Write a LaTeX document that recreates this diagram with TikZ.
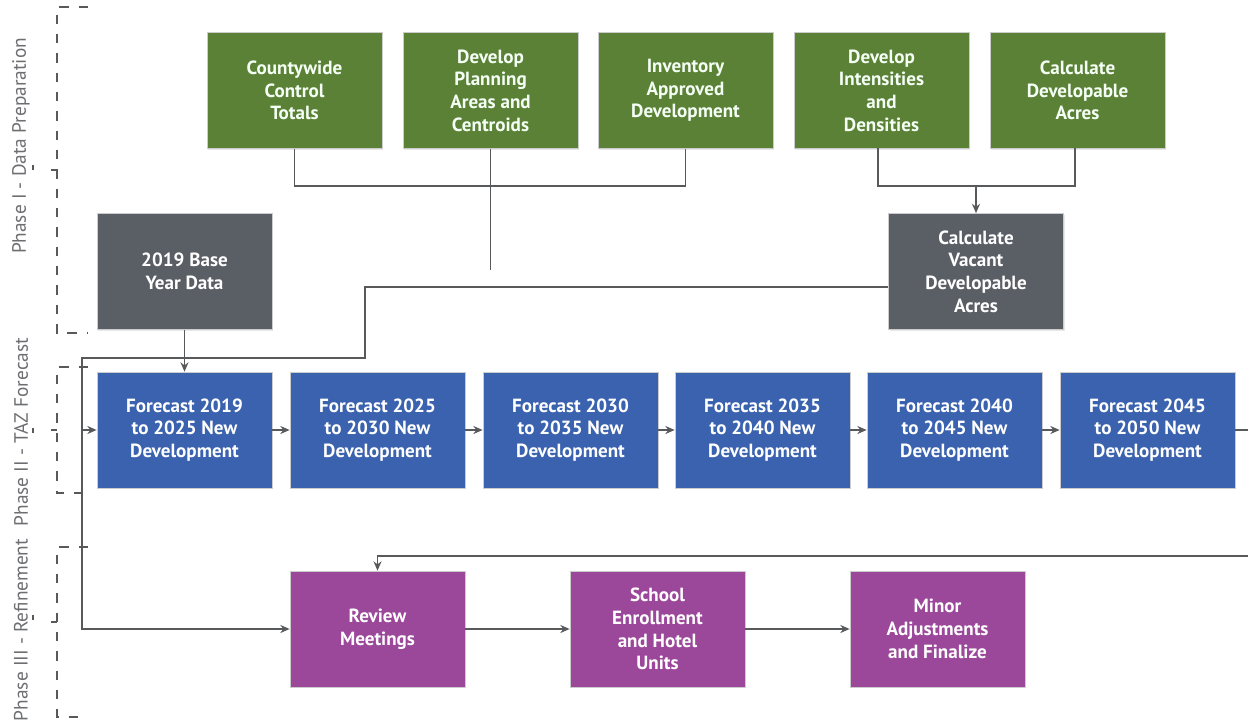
\documentclass[tikz,border=0pt]{standalone}
\usepackage{fontspec}
\setmainfont{PT Sans}
\usetikzlibrary{arrows.meta,shadows}

\definecolor{prepgreen}{HTML}{5A8135}
\definecolor{basegrey}{HTML}{5A5E65}
\definecolor{tazblue}{HTML}{3A62AE}
\definecolor{refpurple}{HTML}{9B489B}
\definecolor{linegrey}{HTML}{58595B}
\definecolor{phasegrey}{HTML}{6D6E71}

\begin{document}
\begin{tikzpicture}[x=0.75pt,y=-0.75pt,
  box/.style={draw=white!80!black, line width=0.5pt, minimum width=131.25pt,
    minimum height=87pt, align=center, text=white, inner sep=2pt,
    font=\bfseries\fontsize{14.3}{17}\selectfont,
    drop shadow={opacity=0.18,shadow xshift=1pt,shadow yshift=-1pt}},
  prep/.style={box, fill=prepgreen, text=green!4!white},
  basebox/.style={box, fill=basegrey},
  taz/.style={box, fill=tazblue},
  refine/.style={box, fill=refpurple},
  link/.style={draw=linegrey, line width=1.3pt},
  flow/.style={link, -{Stealth[length=7pt,width=6pt]}},
  bracket/.style={draw=linegrey, line width=0.9pt, dash pattern=on 7pt off 7.5pt},
  phase/.style={rotate=90, text=phasegrey, font=\fontsize{14.5}{17}\selectfont}]
\useasboundingbox (0,0) rectangle (1248,723);

% phase labels and brackets
\draw (21,146) node (ph1) [phase] {Phase I - Data Preparation};
\draw (21,432) node (ph2) [phase] {Phase II - TAZ Forecast};
\draw (21,630) node (ph3) [phase] {Phase III - Refinement};
\draw[bracket] (88,7) -- (57,7) -- (57,333) -- (88,333);
\draw[bracket] (88,367) -- (57,367) -- (57,493) -- (88,493);
\draw[bracket] (88,547) -- (57,547) -- (57,717) -- (88,717);
\draw[linegrey, line width=0.9pt] (57,170) -- (51,170) (33,165) -- (33,170);
\draw[linegrey, line width=0.9pt] (57,430) -- (51,430) (33,428) -- (33,433);
\draw[linegrey, line width=0.9pt] (57,622) -- (51,622) (33,615) -- (33,620);

% phase I
\draw (294.5,90.5)  node (cwt) [prep] {Countywide\\Control\\Totals};
\draw (490.5,90.5)  node (dpa) [prep] {Develop\\Planning\\Areas and\\Centroids};
\draw (685.5,90.5)  node (iad) [prep] {Inventory\\Approved\\Development};
\draw (881.5,90.5)  node (did) [prep] {Develop\\Intensities\\and\\Densities};
\draw (1077.5,90.5) node (cda) [prep] {Calculate\\Developable\\Acres};

\draw (184.5,271.5) node (byd) [basebox] {2019 Base\\Year Data};
\draw (976,271.5)   node (vda) [basebox] {Calculate\\Vacant\\Developable\\Acres};

\draw[link] (cwt.south) -- (294.5,186) -| (iad.south);
\draw[link] (dpa.south) -- (490.5,270);
\draw[link] (878,148) -- (878,186) -| (1075,148);
\coordinate (jn) at (976,186);
\draw[flow] (jn) -- (vda.north);

% phase II
\draw (184.5,430)  node (f19) [taz] {Forecast 2019\\to 2025 New\\Development};
\draw (377.5,430)  node (f25) [taz] {Forecast 2025\\to 2030 New\\Development};
\draw (570.5,430)  node (f30) [taz] {Forecast 2030\\to 2035 New\\Development};
\draw (762.5,430)  node (f35) [taz] {Forecast 2035\\to 2040 New\\Development};
\draw (954.5,430)  node (f40) [taz] {Forecast 2040\\to 2045 New\\Development};
\draw (1147.5,430) node (f45) [taz] {Forecast 2045\\to 2050 New\\Development};

\draw[flow] (byd.south) -- (f19.north);
\draw[flow] (f19.east) -- (f25.west);
\draw[flow] (f25.east) -- (f30.west);
\draw[flow] (f30.east) -- (f35.west);
\draw[flow] (f35.east) -- (f40.west);
\draw[flow] (f40.east) -- (f45.west);
\coordinate (out) at (1248,430);
\draw[link] (f45.east) -- (out);

% phase III
\draw (377.5,629) node (rvm) [refine] {Review\\Meetings};
\draw (657.5,629) node (seh) [refine] {School\\Enrollment\\and Hotel\\Units};
\draw (937.5,629) node (maf) [refine] {Minor\\Adjustments\\and Finalize};

\coordinate (back) at (1248,556);
\draw[flow] (back) -| (rvm.north);
\draw[flow] (vda.west |- 0,287) -- (365,287) -- (365,358) -- (82,358) |- (rvm.west);
\draw[flow] (82,430) -- (f19.west);
\draw[flow] (rvm.east) -- (seh.west);
\draw[flow] (seh.east) -- (maf.west);
\end{tikzpicture}
\end{document}
